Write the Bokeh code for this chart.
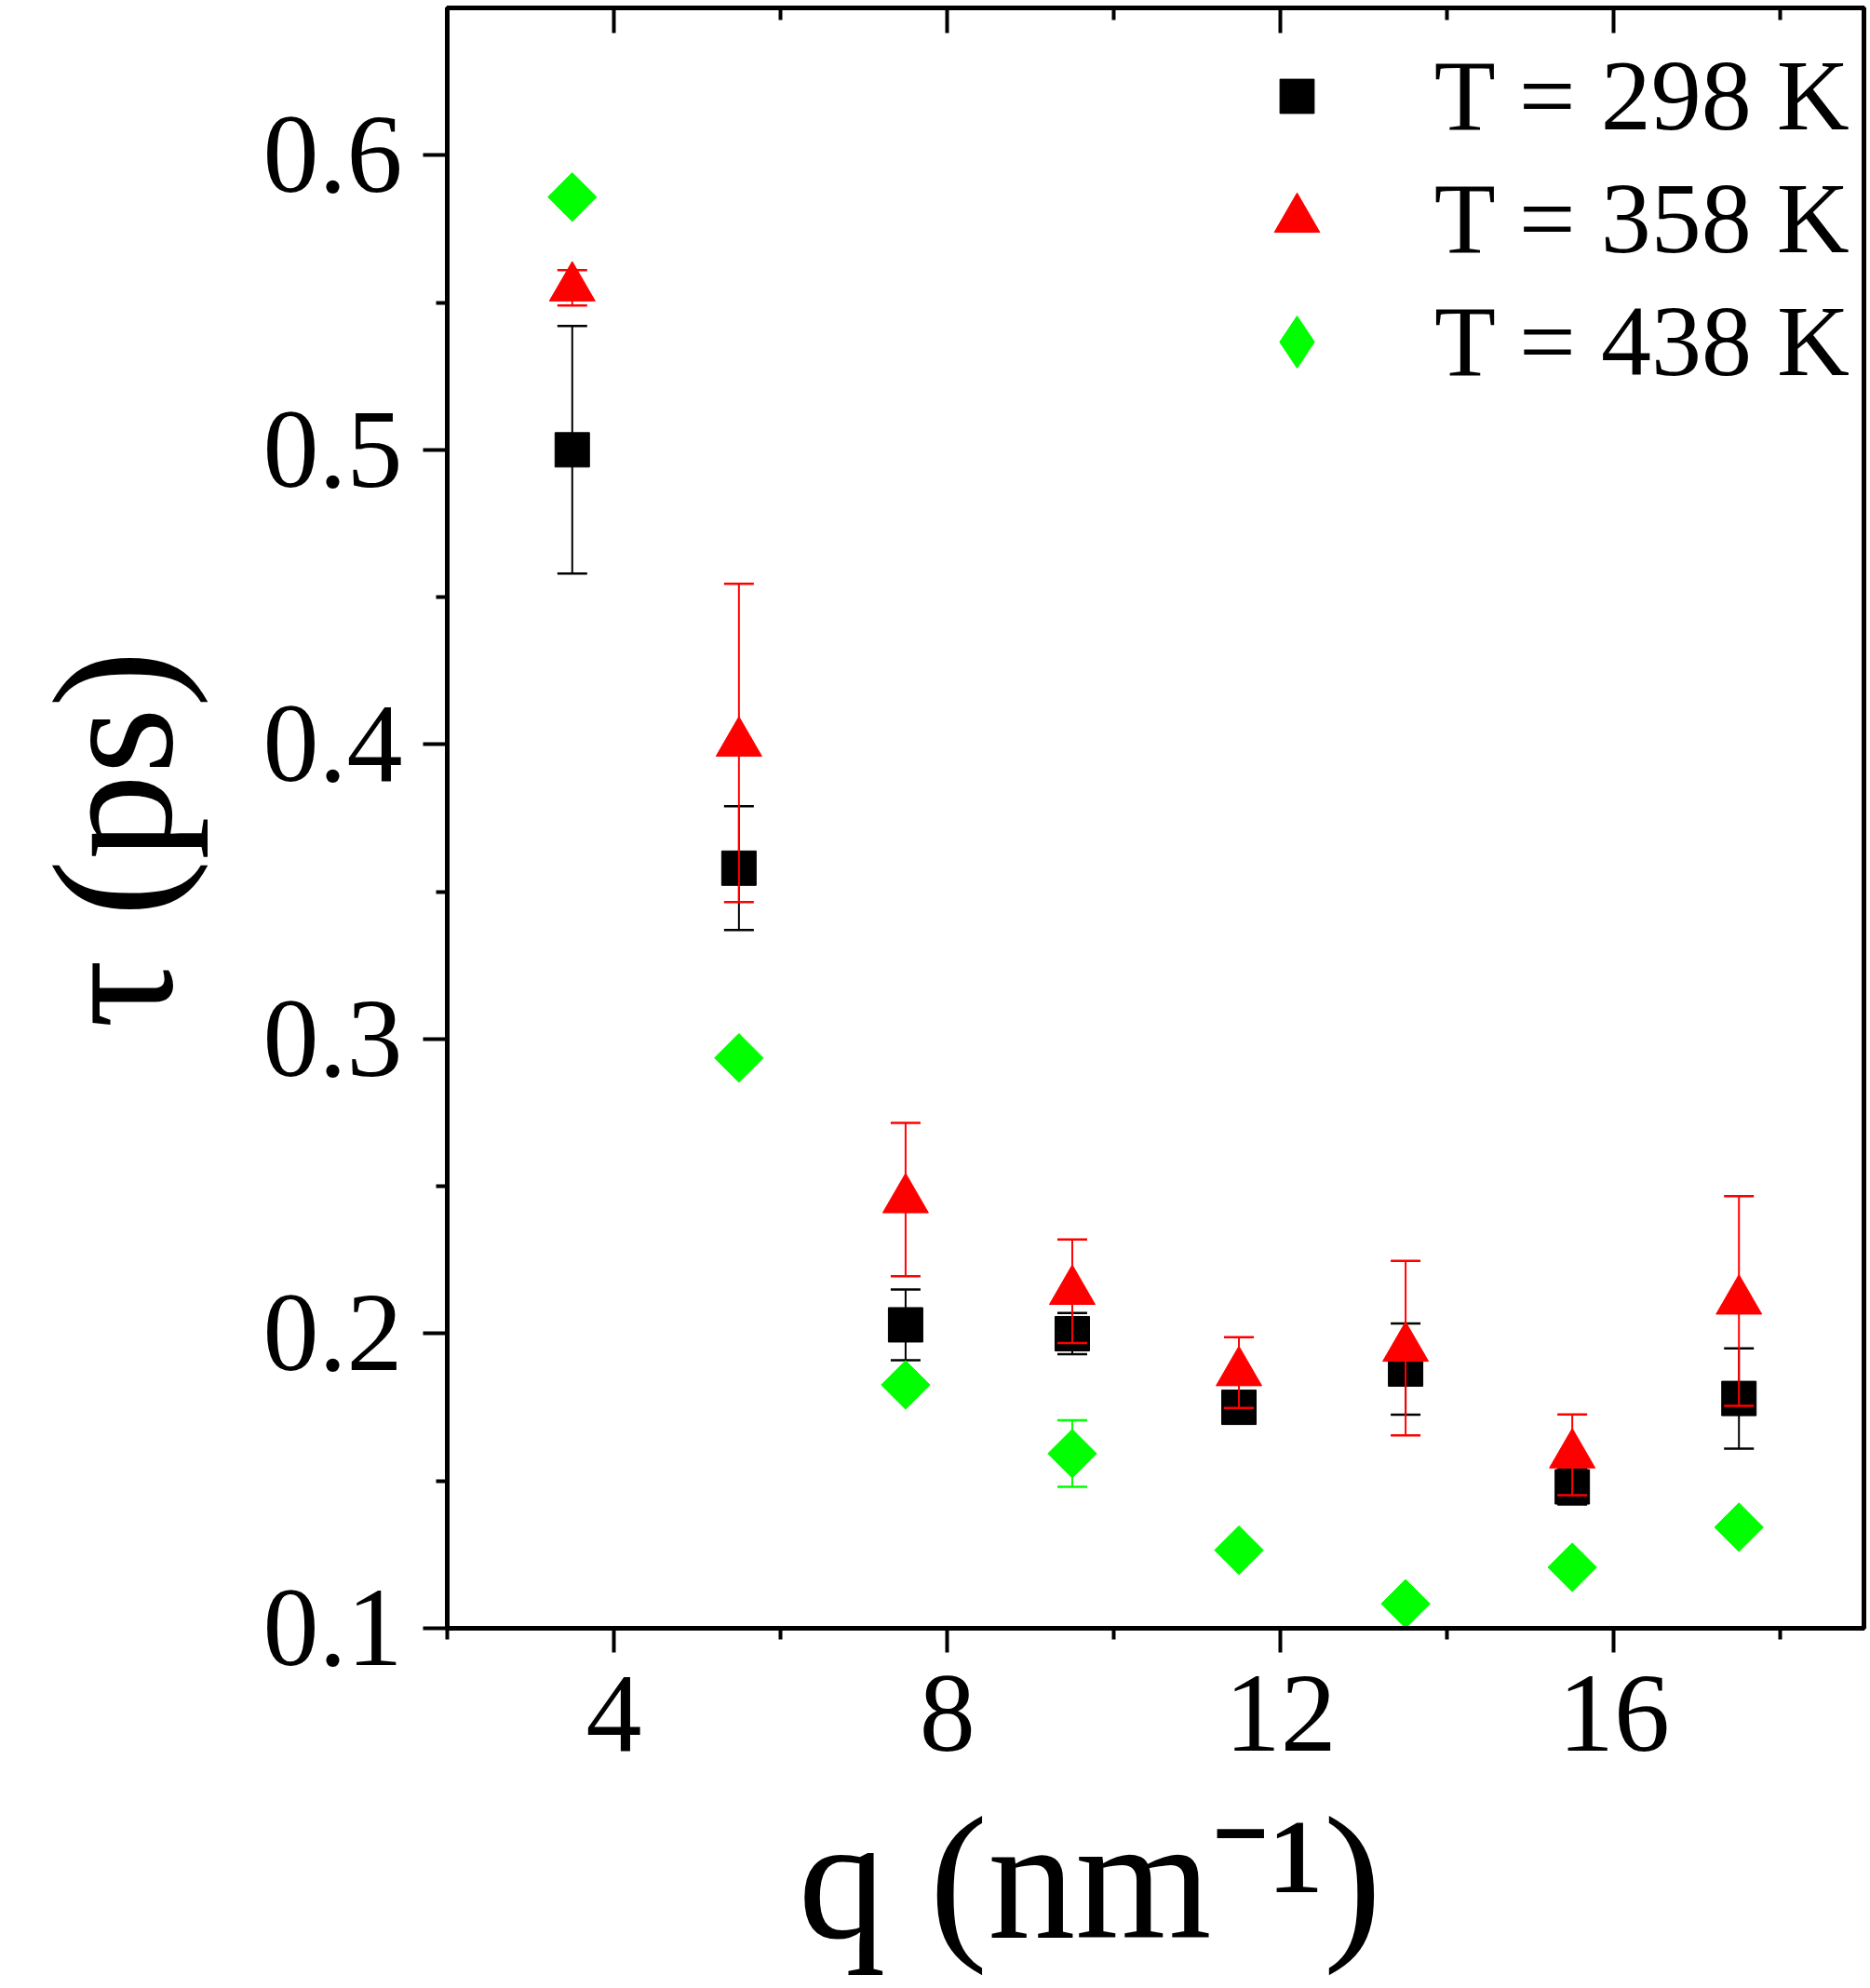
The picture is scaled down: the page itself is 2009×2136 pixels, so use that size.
import numpy as np
from bokeh.plotting import figure
from bokeh.models import Range1d, LinearAxis, FixedTicker, Legend, LegendItem
from bokeh.embed import file_html
from bokeh.resources import INLINE

# ---- data ----
q = [3.5, 5.5, 7.5, 9.5, 11.5, 13.5, 15.5, 17.5]

tau_298 = [0.500, 0.358, 0.203, 0.200, 0.175, 0.188, 0.148, 0.178]
err_298 = [0.042, 0.021, 0.012, 0.007, 0.004, 0.0155, 0.006, 0.017]

tau_358 = [0.555, 0.4005, 0.2455, 0.2144, 0.1868, 0.1951, 0.1589, 0.2111]
err_358 = [0.006, 0.054, 0.026, 0.0176, 0.012, 0.0296, 0.0137, 0.0356]

tau_438 = [0.5858, 0.2936, 0.1826, 0.1593, 0.1265, 0.1083, 0.1207, 0.1343]
err_438 = [0.002, 0.002, 0.002, 0.0113, 0.002, 0.002, 0.002, 0.002]

labels = ["T = 298 K", "T = 358 K", "T = 438 K"]

x_major_ticks = [4, 8, 12, 16]
x_minor_ticks = [2, 6, 10, 14, 18]
y_major_ticks = [0.1, 0.2, 0.3, 0.4, 0.5, 0.6]
y_minor_ticks = [0.15, 0.25, 0.35, 0.45, 0.55]

NB = "\u00a0"
x_title = "q (nm\u207b\u00b9)" + NB * 3
y_title = "τ (ps)" + NB

FONT = "Liberation Serif"
W, H = 2009, 2136
FL, FB, FT, FR = 480, 387, 8, 7

p = figure(width=W, height=H, x_range=Range1d(2, 19), y_range=Range1d(0.1, 0.65),
           output_backend="svg", toolbar_location=None,
           min_border_left=FL, min_border_right=FR, min_border_top=FT,
           min_border_bottom=FB)
p.xgrid.visible = False
p.ygrid.visible = False
p.background_fill_color = "white"
p.border_fill_color = "white"
p.outline_line_color = "black"
p.outline_line_width = 5
p.outline_line_alpha = 1.0

def style_axis(ax, ticks, minor):
    ax.ticker = FixedTicker(ticks=ticks, minor_ticks=minor)
    ax.axis_line_width = 5
    ax.axis_line_color = "black"
    ax.major_tick_line_width = 4
    ax.minor_tick_line_width = 4
    ax.major_tick_line_color = "black"
    ax.minor_tick_line_color = "black"
    ax.major_tick_out = 26
    ax.major_tick_in = 0
    ax.minor_tick_out = 12
    ax.minor_tick_in = 0
    ax.major_label_text_font = FONT
    ax.major_label_text_font_size = "120px"
    ax.major_label_text_color = "black"
    ax.axis_label_text_font = FONT
    ax.axis_label_text_font_style = "normal"
    ax.axis_label_text_color = "black"

style_axis(p.xaxis[0], x_major_ticks, x_minor_ticks)
style_axis(p.yaxis[0], y_major_ticks, y_minor_ticks)
p.xaxis[0].major_label_standoff = 26
p.yaxis[0].major_label_standoff = 22

p.xaxis[0].axis_label = x_title
p.xaxis[0].axis_label_text_font_size = "188px"
p.xaxis[0].axis_label_standoff = 30
p.yaxis[0].axis_label = y_title
p.yaxis[0].axis_label_text_font_size = "184px"
p.yaxis[0].axis_label_standoff = 56

# inward tick marks along the top edge (no labels): long ones at the major
# positions, short ones at the minor positions
for tick_pos, length in ((x_major_ticks, 27), (x_minor_ticks, 13)):
    top = LinearAxis(ticker=FixedTicker(ticks=[], minor_ticks=tick_pos))
    top.axis_line_width = 5
    top.axis_line_color = "black"
    top.minor_tick_line_width = 4
    top.minor_tick_line_color = "black"
    top.minor_tick_in = length
    top.minor_tick_out = 0
    top.major_tick_in = 0
    top.major_tick_out = 0
    top.major_label_standoff = 0
    top.axis_label = None
    p.add_layout(top, "above")

def draw(vals, errs, color):
    lo = [v - e for v, e in zip(vals, errs)]
    hi = [v + e for v, e in zip(vals, errs)]
    p.segment(x0=q, y0=lo, x1=q, y1=hi, line_color=color, line_width=2)
    p.scatter(x=q + q, y=lo + hi, marker="dash", size=32,
              line_color=color, line_width=2.5)

draw(tau_298, err_298, "#000000")
r1 = p.scatter(x=q, y=tau_298, marker="square", size=37,
               fill_color="#000000", line_color="#000000", line_width=1)
draw(tau_358, err_358, "#FF0000")
r2 = p.scatter(x=q, y=tau_358, marker="triangle", size=49,
               fill_color="#FF0000", line_color="#FF0000", line_width=1)
draw(tau_438, err_438, "#00FF00")
# small diamonds fully hidden under the rotated squares; they only serve
# the legend entry (legend glyphs are drawn unrotated)
r3_leg = p.scatter(x=q, y=tau_438, marker="diamond", size=30,
                   fill_color="#00FF00", line_color="#00FF00", line_width=1)
r3 = p.scatter(x=q, y=tau_438, marker="square", size=37, angle=np.pi / 4,
               fill_color="#00FF00", line_color="#00FF00", line_width=1)

frame_bottom = H - FB
GLYPH_CX = 1393
LABEL_X = 1541
def add_legend(label, rend, size, center_y):
    gw = size / 0.4
    gh = 140
    left = GLYPH_CX - gw / 2
    top_y = center_y - gh / 2
    leg = Legend(items=[LegendItem(label=label, renderers=[rend])],
                 location=(left - FL, frame_bottom - top_y - gh),
                 glyph_width=int(round(gw)), glyph_height=gh, label_height=gh,
                 label_standoff=int(round(LABEL_X - left - gw)), padding=0,
                 margin=0, spacing=0, border_line_color=None,
                 background_fill_alpha=0, label_text_font=FONT,
                 label_text_font_size="108px", label_text_color="black")
    p.add_layout(leg, "center")

add_legend(labels[0], r1, 37, 103)
add_legend(labels[1], r2, 49, 235)
add_legend(labels[2], r3_leg, 56, 367)

open("out.html", "w").write(file_html(p, INLINE))
